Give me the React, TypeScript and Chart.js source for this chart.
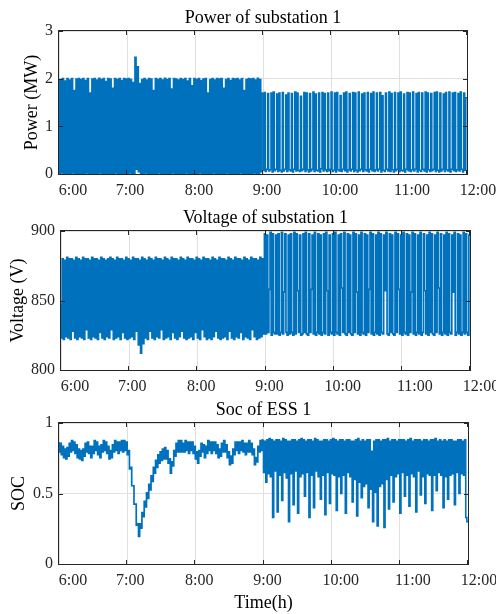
import React, { useEffect, useRef } from "react";
import { Chart, registerables } from "chart.js";

Chart.register(...registerables);

// ---------------- data ----------------
// one sample per minute, starting at 6:00
const SAMPLE_MINUTES = 1;
const timeTickLabels = ["6:00", "7:00", "8:00", "9:00", "10:00", "11:00", "12:00"];
const timeTickMinutes = [0, 60, 120, 180, 240, 300, 360];

const powerTicks = [0, 1, 2, 3];
const voltageTicks = [800, 850, 900];
const socTicks = [0, 0.5, 1];

// Power of substation 1 (MW), 6:00 - 8:59
const powerBefore9 = [
  2.0, 0, 1.98, 0.02, 2.0, 0, 1.95, 0.01, 2.0, 0,
  1.97, 0, 2.0, 0.02, 1.75, 0, 1.99, 0, 2.0, 0.01,
  1.98, 0, 2.0, 0, 1.96, 0.02, 2.0, 0, 1.7, 0,
  1.99, 0.01, 2.0, 0, 1.97, 0, 2.01, 0.02, 1.98, 0,
  2.0, 0, 1.94, 0, 2.0, 0.01, 1.99, 0, 1.8, 0,
  2.0, 0.02, 1.98, 0, 2.0, 0, 1.96, 0.01, 2.0, 0,
  1.99, 0, 2.0, 0.02, 1.98, 0, 1.92, 0, 2.45, 0.1,
  2.25, 0.05, 1.9, 0, 1.98, 0, 2.0, 0.02, 1.97, 0,
  2.0, 0, 1.99, 0.01, 1.75, 0, 2.0, 0, 1.98, 0.02,
  2.0, 0, 1.97, 0, 2.01, 0.01, 1.98, 0, 2.0, 0,
  1.78, 0.02, 2.0, 0, 1.99, 0, 1.97, 0.01, 2.0, 0,
  1.98, 0, 2.0, 0.02, 1.95, 0, 2.0, 0, 1.85, 0.01,
  2.0, 0, 1.98, 0, 2.0, 0.02, 1.96, 0, 1.99, 0,
  2.0, 0.01, 1.7, 0, 1.98, 0, 2.0, 0.02, 1.97, 0,
  2.0, 0, 1.99, 0.01, 2.0, 0, 1.8, 0, 1.98, 0.02,
  2.0, 0, 1.96, 0, 2.0, 0.01, 1.99, 0, 2.0, 0,
  1.97, 0.02, 2.0, 0, 1.75, 0, 1.98, 0.01, 2.0, 0,
  1.99, 0, 2.0, 0.02, 1.97, 0, 2.01, 0, 1.98, 0.05,
];
// 9:00 - 12:00
const powerAfter9 = [
  1.70, 0.08, 1.71, 0.05, 0.1, 1.69, 0.06, 0.09, 1.70, 0.04,
  1.72, 0.07, 0.1, 1.68, 0.05, 1.70, 0.08, 0.04, 1.71, 0.06,
  0.1, 1.66, 0.05, 1.70, 0.09, 0.06, 1.69, 0.04, 0.1, 1.72,
  0.06, 1.70, 0.08, 0.05, 1.63, 0.07, 0.1, 1.71, 0.05, 1.70,
  0.09, 0.04, 1.69, 0.06, 0.1, 1.72, 0.05, 1.68, 0.08, 0.06,
  1.70, 0.04, 0.11, 1.71, 0.06, 1.69, 0.09, 0.05, 1.70, 0.07,
  0.1, 1.72, 0.05, 0.08, 1.70, 0.04, 1.71, 0.09, 0.06, 1.65,
  0.05, 0.1, 1.70, 0.07, 1.72, 0.04, 0.09, 1.69, 0.06, 0.1,
  1.71, 0.05, 1.70, 0.08, 0.04, 1.72, 0.07, 0.1, 1.68, 0.05,
  1.70, 0.09, 0.06, 1.71, 0.04, 0.1, 1.69, 0.07, 1.72, 0.05,
  0.09, 1.70, 0.06, 0.1, 1.71, 0.04, 1.64, 0.08, 0.05, 1.70,
  0.1, 0.06, 1.72, 0.05, 1.69, 0.09, 0.04, 1.71, 0.07, 0.1,
  1.70, 0.05, 1.72, 0.08, 0.06, 1.68, 0.04, 0.1, 1.71, 0.07,
  1.70, 0.05, 0.09, 1.72, 0.06, 0.1, 1.69, 0.04, 1.71, 0.08,
  0.05, 1.70, 0.1, 0.06, 1.72, 0.04, 1.70, 0.09, 0.05, 1.69,
  0.07, 0.1, 1.71, 0.05, 1.72, 0.08, 0.04, 1.70, 0.06, 0.1,
  1.68, 0.05, 1.71, 0.09, 0.06, 1.72, 0.04, 0.1, 1.70, 0.07,
  1.71, 0.05, 0.09, 1.69, 0.06, 1.72, 0.1, 0.04, 1.70, 0.08,
  1.6,
];

// Voltage of substation 1 (V)
const voltageBefore9 = [
  848, 823, 880, 822, 879, 824, 881, 823, 880, 822,
  880, 828, 879, 823, 881, 822, 880, 824, 879, 823,
  881, 822, 880, 829, 880, 823, 879, 822, 881, 824,
  880, 823, 880, 822, 879, 827, 881, 823, 880, 822,
  879, 824, 880, 823, 881, 829, 880, 822, 879, 823,
  881, 824, 880, 822, 880, 827, 879, 823, 881, 822,
  880, 823, 879, 824, 881, 822, 880, 828, 880, 818,
  879, 812, 881, 819, 880, 823, 879, 822, 881, 828,
  880, 823, 879, 822, 881, 824, 880, 823, 880, 829,
  879, 822, 881, 823, 880, 824, 879, 822, 881, 827,
  880, 823, 880, 822, 879, 824, 881, 828, 880, 823,
  879, 822, 881, 823, 880, 824, 880, 822, 879, 827,
  881, 823, 880, 822, 879, 829, 881, 824, 880, 822,
  880, 823, 879, 822, 881, 824, 880, 828, 879, 823,
  881, 822, 880, 823, 880, 824, 879, 822, 881, 828,
  880, 823, 879, 822, 881, 824, 880, 823, 880, 827,
  879, 822, 881, 824, 880, 823, 879, 822, 881, 829,
  880, 824, 880, 822, 879, 823, 881, 824, 880, 826,
];
const voltageAfter9 = [
  898, 826, 897, 827, 858, 899, 825, 898, 827, 826,
  897, 826, 898, 825, 827, 899, 826, 856, 898, 827,
  825, 897, 826, 898, 827, 825, 899, 826, 898, 857,
  827, 897, 825, 826, 898, 827, 899, 826, 825, 898,
  827, 858, 897, 826, 899, 825, 827, 898, 826, 897,
  825, 827, 898, 826, 899, 857, 825, 897, 827, 826,
  898, 825, 899, 827, 826, 897, 825, 898, 859, 827,
  899, 826, 825, 898, 827, 897, 826, 825, 899, 827,
  898, 856, 826, 897, 825, 899, 827, 826, 898, 825,
  897, 827, 858, 899, 826, 898, 825, 827, 897, 826,
  899, 825, 898, 827, 826, 897, 857, 899, 826, 825,
  898, 827, 897, 826, 825, 899, 827, 898, 858, 826,
  897, 825, 899, 827, 826, 898, 825, 897, 827, 856,
  899, 826, 898, 825, 827, 897, 826, 899, 825, 827,
  898, 857, 826, 897, 825, 899, 827, 898, 826, 825,
  897, 827, 899, 859, 826, 898, 825, 827, 897, 826,
  899, 825, 898, 827, 826, 897, 856, 899, 825, 827,
  898, 826, 897, 825, 827, 899, 826, 898, 827, 825,
  897,
];

// Soc of ESS 1
const socBefore9 = [
  0.865, 0.795, 0.855, 0.775, 0.835, 0.755, 0.815, 0.745, 0.825, 0.765,
  0.855, 0.795, 0.875, 0.805, 0.865, 0.785, 0.845, 0.755, 0.815, 0.745,
  0.805, 0.735, 0.815, 0.765, 0.855, 0.795, 0.865, 0.785, 0.835, 0.755,
  0.835, 0.785, 0.875, 0.805, 0.865, 0.775, 0.835, 0.755, 0.845, 0.795,
  0.875, 0.805, 0.865, 0.785, 0.835, 0.745, 0.805, 0.755, 0.845, 0.795,
  0.875, 0.805, 0.865, 0.785, 0.865, 0.805, 0.875, 0.795, 0.875, 0.805,
  0.865, 0.775, 0.805, 0.675, 0.685, 0.555, 0.555, 0.425, 0.425, 0.275,
  0.285, 0.195, 0.285, 0.255, 0.365, 0.335, 0.445, 0.405, 0.505, 0.465,
  0.565, 0.525, 0.625, 0.585, 0.685, 0.645, 0.735, 0.685, 0.775, 0.715,
  0.795, 0.735, 0.815, 0.745, 0.825, 0.745, 0.805, 0.715, 0.745, 0.645,
  0.725, 0.695, 0.805, 0.765, 0.855, 0.795, 0.875, 0.795, 0.875, 0.795,
  0.855, 0.795, 0.875, 0.805, 0.865, 0.785, 0.865, 0.805, 0.865, 0.785,
  0.835, 0.745, 0.795, 0.715, 0.805, 0.765, 0.855, 0.795, 0.845, 0.755,
  0.835, 0.785, 0.875, 0.805, 0.865, 0.785, 0.865, 0.805, 0.865, 0.785,
  0.845, 0.755, 0.815, 0.765, 0.855, 0.795, 0.875, 0.795, 0.845, 0.755,
  0.795, 0.705, 0.765, 0.715, 0.815, 0.775, 0.865, 0.805, 0.865, 0.785,
  0.865, 0.805, 0.875, 0.795, 0.855, 0.775, 0.855, 0.795, 0.875, 0.795,
  0.855, 0.775, 0.815, 0.705, 0.755, 0.725, 0.835, 0.795, 0.875, 0.805,
];
const socAfter9 = [
  0.88, 0.65, 0.87, 0.58,
  0.88, 0.64, 0.89, 0.62, 0.88, 0.33,
  0.87, 0.66, 0.88, 0.37,
  0.88, 0.63, 0.87, 0.45,
  0.89, 0.65, 0.88, 0.61, 0.87, 0.30,
  0.87, 0.64, 0.88, 0.42,
  0.88, 0.66, 0.87, 0.36,
  0.88, 0.62, 0.89, 0.64, 0.88, 0.48,
  0.87, 0.65, 0.88, 0.33,
  0.88, 0.63, 0.87, 0.40,
  0.89, 0.66, 0.88, 0.62, 0.87, 0.46,
  0.87, 0.63, 0.88, 0.35,
  0.88, 0.65, 0.87, 0.43,
  0.88, 0.64, 0.89, 0.63, 0.88, 0.38,
  0.87, 0.62, 0.88, 0.50,
  0.88, 0.63, 0.87, 0.36,
  0.88, 0.65, 0.88, 0.62, 0.87, 0.44,
  0.87, 0.60, 0.88, 0.34,
  0.89, 0.58, 0.87, 0.47,
  0.88, 0.55, 0.87, 0.57, 0.88, 0.40,
  0.88, 0.53, 0.80, 0.30,
  0.87, 0.51, 0.88, 0.27,
  0.88, 0.55, 0.87, 0.57, 0.88, 0.26,
  0.88, 0.60, 0.89, 0.39,
  0.87, 0.63, 0.88, 0.44,
  0.88, 0.62, 0.87, 0.64, 0.88, 0.36,
  0.88, 0.65, 0.88, 0.48,
  0.87, 0.63, 0.88, 0.41,
  0.89, 0.64, 0.87, 0.62, 0.88, 0.37,
  0.88, 0.66, 0.88, 0.49,
  0.87, 0.62, 0.88, 0.43,
  0.88, 0.64, 0.87, 0.63, 0.88, 0.38,
  0.88, 0.63, 0.89, 0.52,
  0.87, 0.65, 0.88, 0.63, 0.87, 0.40,
  0.88, 0.62, 0.87, 0.46,
  0.88, 0.63, 0.88, 0.64, 0.87, 0.42,
  0.87, 0.65, 0.88, 0.50,
  0.88, 0.64, 0.87, 0.63, 0.88, 0.33,
  0.30,
];

const powerMW = [...powerBefore9, ...powerAfter9];
const voltageV = [...voltageBefore9, ...voltageAfter9];
const socESS = [...socBefore9, ...socAfter9];
const SPLIT_INDEX = powerBefore9.length;

// ---------------- styling / layout ----------------
const W = 496;
const BLUE = "#0072BD";
const GRID = "#e0e0e0";
const AXIS = "#262626";
const FONT = '"Liberation Serif", "Times New Roman", serif';
const TICK_LEN = 4;
// small horizontal nudges of the time labels relative to their ticks
const LABEL_SHIFT = [14, 3, 4, 4, 9, 13, 11];

type PanelCfg = {
  key: string;
  top: number;
  height: number;
  area: { left: number; top: number; right: number; bottom: number };
  title: string;
  yLabel: string;
  yLabelX: number;
  yTicks: number[];
  values: number[];
  widthBefore: number;
  widthAfter: number;
  xLabel?: string;
  xLabelY?: number;
};

const PANELS: PanelCfg[] = [
  {
    key: "p",
    top: 0,
    height: 200,
    area: { left: 59, top: 31, right: 467, bottom: 174 },
    title: "Power of substation 1",
    yLabel: "Power (MW)",
    yLabelX: 32,
    yTicks: powerTicks,
    values: powerMW,
    widthBefore: 1.6,
    widthAfter: 1.45,
  },
  {
    key: "v",
    top: 200,
    height: 200,
    area: { left: 61, top: 31, right: 470, bottom: 170 },
    title: "Voltage of substation 1",
    yLabel: "Voltage (V)",
    yLabelX: 18,
    yTicks: voltageTicks,
    values: voltageV,
    widthBefore: 1.6,
    widthAfter: 1.7,
  },
  {
    key: "s",
    top: 400,
    height: 214,
    area: { left: 59, top: 23, right: 468, bottom: 164 },
    title: "Soc of ESS 1",
    yLabel: "SOC",
    yLabelX: 19,
    yTicks: socTicks,
    values: socESS,
    widthBefore: 1.7,
    widthAfter: 1.6,
    xLabel: "Time(h)",
    xLabelY: 208,
  },
];

function makeFramePlugin(cfg: PanelCfg) {
  return {
    id: "frame_" + cfg.key,
    afterDatasetsDraw(chart: any) {
      const { ctx, chartArea: a, scales } = chart;
      ctx.save();
      ctx.strokeStyle = AXIS;
      ctx.lineWidth = 1;
      ctx.beginPath();
      scales.x.ticks.forEach((t: any) => {
        const px = Math.round(scales.x.getPixelForValue(t.value)) - 0.5;
        ctx.moveTo(px, a.bottom);
        ctx.lineTo(px, a.bottom - TICK_LEN);
        ctx.moveTo(px, a.top);
        ctx.lineTo(px, a.top + TICK_LEN);
      });
      scales.y.ticks.forEach((t: any) => {
        const py = Math.round(scales.y.getPixelForValue(t.value)) + 0.5;
        ctx.moveTo(a.left, py);
        ctx.lineTo(a.left + TICK_LEN, py);
        ctx.moveTo(a.right, py);
        ctx.lineTo(a.right - TICK_LEN, py);
      });
      ctx.stroke();
      ctx.strokeRect(a.left - 0.5, a.top - 0.5, a.right - a.left + 1, a.bottom - a.top + 1);
      ctx.restore();
    },
    afterDraw(chart: any) {
      const { ctx, chartArea: a, scales } = chart;
      ctx.save();
      // title
      ctx.fillStyle = "#000";
      ctx.font = `18px ${FONT}`;
      ctx.textAlign = "center";
      ctx.textBaseline = "alphabetic";
      ctx.fillText(cfg.title, (a.left + a.right) / 2, a.top - 8);
      // time labels
      ctx.fillStyle = AXIS;
      ctx.font = `16px ${FONT}`;
      timeTickLabels.forEach((lab, k) => {
        const px = scales.x.getPixelForValue(timeTickMinutes[k]) + LABEL_SHIFT[k];
        ctx.fillText(lab, px, a.bottom + 21);
      });
      // y label
      ctx.fillStyle = "#000";
      ctx.font = `18px ${FONT}`;
      ctx.save();
      ctx.translate(cfg.yLabelX, (a.top + a.bottom) / 2);
      ctx.rotate(-Math.PI / 2);
      ctx.textBaseline = "middle";
      ctx.fillText(cfg.yLabel, 0, 0);
      ctx.restore();
      if (cfg.xLabel) {
        ctx.textBaseline = "alphabetic";
        ctx.fillText(cfg.xLabel, (a.left + a.right) / 2, cfg.xLabelY);
      }
      ctx.restore();
    },
  };
}

function buildConfig(cfg: PanelCfg): any {
  const pts = cfg.values.map((v, i) => ({ x: i * SAMPLE_MINUTES, y: v }));
  const yMin = cfg.yTicks[0];
  const yMax = cfg.yTicks[cfg.yTicks.length - 1];
  const yStep = cfg.yTicks[1] - cfg.yTicks[0];
  return {
    type: "line",
    data: {
      datasets: [
        {
          data: pts,
          borderColor: BLUE,
          borderWidth: cfg.widthBefore,
          pointRadius: 0,
          fill: false,
          tension: 0,
          stepped: "after",
          segment: {
            borderWidth: (c: any) => (c.p0DataIndex < SPLIT_INDEX ? cfg.widthBefore : cfg.widthAfter),
          },
        },
      ],
    },
    options: {
      animation: false,
      responsive: false,
      devicePixelRatio: 1,
      events: [],
      layout: {
        padding: {
          left: 0,
          top: cfg.area.top,
          right: W - cfg.area.right,
          bottom: cfg.height - cfg.area.bottom,
        },
      },
      plugins: {
        legend: { display: false },
        tooltip: { enabled: false },
        title: { display: false },
      },
      scales: {
        x: {
          type: "linear",
          min: timeTickMinutes[0],
          max: timeTickMinutes[timeTickMinutes.length - 1],
          ticks: { display: false, stepSize: 60 },
          grid: { color: GRID, drawTicks: false, lineWidth: 1 },
          border: { display: false },
          afterFit: (s: any) => {
            s.height = 0;
          },
        },
        y: {
          type: "linear",
          min: yMin,
          max: yMax,
          ticks: {
            stepSize: yStep,
            padding: 6,
            color: AXIS,
            font: { family: FONT, size: 16 },
            callback: (v: any) => String(v),
          },
          grid: { color: GRID, drawTicks: false, lineWidth: 1 },
          border: { display: false },
          afterFit: (s: any) => {
            s.width = cfg.area.left;
          },
        },
      },
    },
    plugins: [makeFramePlugin(cfg)],
  };
}

function Panel({ cfg }: { cfg: PanelCfg }) {
  const ref = useRef<HTMLCanvasElement>(null);
  useEffect(() => {
    const chart = new Chart(ref.current as HTMLCanvasElement, buildConfig(cfg));
    return () => chart.destroy();
  }, [cfg]);
  return (
    <canvas
      ref={ref}
      width={W}
      height={cfg.height}
      style={{ position: "absolute", left: 0, top: cfg.top, width: W, height: cfg.height, display: "block" }}
    />
  );
}

export default function App() {
  useEffect(() => {
    document.body.style.margin = "0";
  }, []);
  return (
    <div style={{ position: "relative", width: W, height: 614, background: "#fff", overflow: "hidden" }}>
      {PANELS.map((p) => (
        <Panel key={p.key} cfg={p} />
      ))}
    </div>
  );
}
